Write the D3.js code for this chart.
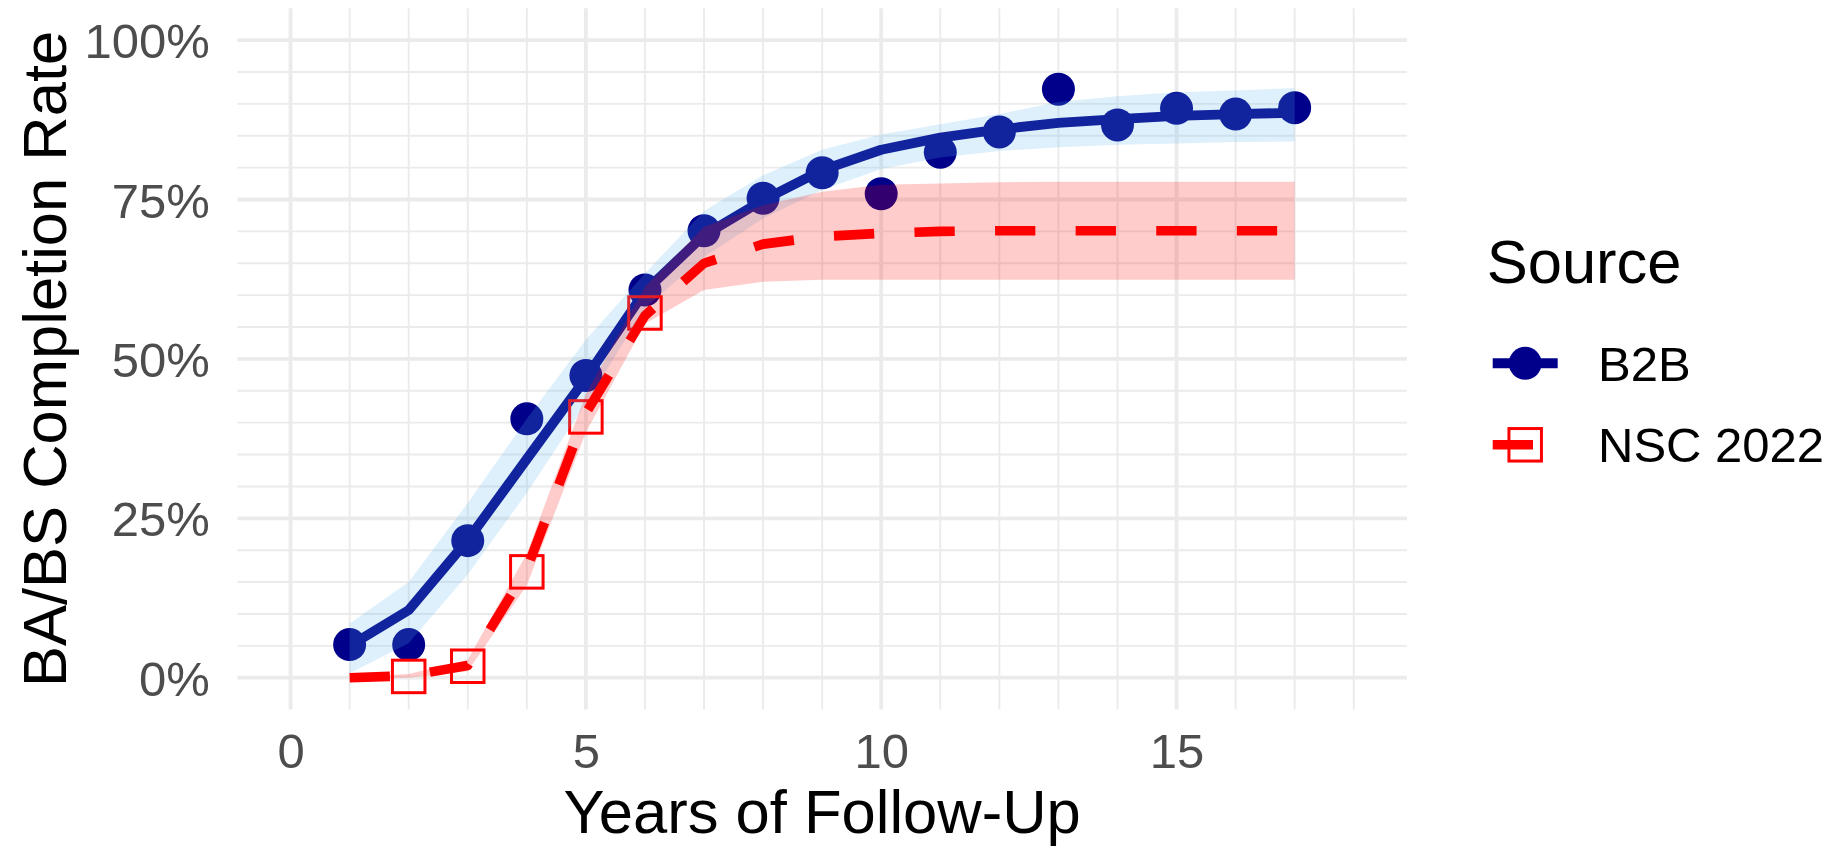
<!DOCTYPE html>
<html>
<head>
<meta charset="utf-8">
<script src="https://cdn.jsdelivr.net/npm/d3@7"></script>
<style>
  html, body { margin: 0; padding: 0; background: #ffffff; }
  svg { display: block; font-family: "Liberation Sans", Arial, Helvetica, sans-serif; }
</style>
</head>
<body>
<svg id="chart" width="1835" height="847"></svg>
<script>
// ---------------- data ----------------
const years = [1, 2, 3, 4, 5, 6, 7, 8, 9, 10, 11, 12, 13, 14, 15, 16, 17];

// B2B observed completion rates (%)
const b2bObserved = [5.2, 5.2, 21.5, 40.6, 47.4, 60.8, 70.1, 75.2, 79.2, 75.9, 82.4, 85.6, 92.3, 86.7, 89.3, 88.4, 89.4];
// B2B fitted curve and band (%)
const b2bFit  = [5.0, 10.6, 21.6, 34.3, 47.0, 60.6, 69.4, 74.9, 79.6, 82.8, 84.7, 86.0, 87.0, 87.6, 88.1, 88.4, 88.6];
const b2bLow  = [0.7, 5.4, 16.2, 29.0, 43.0, 58.0, 66.0, 72.0, 76.5, 79.8, 81.6, 82.6, 83.2, 83.6, 83.8, 84.0, 84.1];
const b2bHigh = [8.5, 15.0, 27.4, 40.6, 53.0, 63.4, 73.2, 78.8, 82.8, 85.2, 86.8, 88.4, 90.3, 91.2, 91.8, 92.1, 92.5];

// NSC 2022 observed (%)
const nscYears    = [2, 3, 4, 5, 6];
const nscObserved = [0.2, 1.8, 16.6, 40.9, 57.2];
// NSC 2022 fitted curve and band (%)
const nscFit  = [0.0, 0.3, 1.9, 17.0, 41.5, 56.8, 65.0, 68.0, 69.2, 69.7, 70.0, 70.1, 70.1, 70.1, 70.1, 70.1, 70.1];
const nscLow  = [0.0, 0.0, 1.0, 14.5, 38.5, 55.5, 60.8, 62.1, 62.4, 62.4, 62.4, 62.4, 62.4, 62.4, 62.4, 62.4, 62.4];
const nscHigh = [0.0, 0.6, 2.8, 19.5, 44.5, 61.3, 70.7, 74.1, 76.2, 77.3, 77.5, 77.7, 77.8, 77.8, 77.8, 77.8, 77.8];

// axes
const xTicks = [0, 5, 10, 15];
const xTickLabels = ["0", "5", "10", "15"];
const xMinorTicks = [1, 2, 3, 4, 6, 7, 8, 9, 11, 12, 13, 14, 16, 17, 18];
const yTicks = [0, 25, 50, 75, 100];
const yTickLabels = ["0%", "25%", "50%", "75%", "100%"];
const yMinorTicks = [5, 10, 15, 20, 30, 35, 40, 45, 55, 60, 65, 70, 80, 85, 90, 95];

const seriesNames = ["B2B", "NSC 2022"];
const xTitle = "Years of Follow-Up";
const yTitle = "BA/BS Completion Rate";
const legendTitle = "Source";

// ---------------- layout ----------------
const panel = { left: 237.4, right: 1406.9, top: 8.2, bottom: 709.6 };
const colB2B = "#00008B";
const colNSC = "#FF0000";
const fillB2B = "#56B4E9";
const fillNSC = "#FF0000";
const gridCol = "#EBEBEB";

const svg = d3.select("#chart");

const x = d3.scaleLinear().domain([-0.9, 18.9]).range([panel.left, panel.right]);
const y = d3.scaleLinear().domain([-5, 105]).range([panel.bottom, panel.top]);

// grid
const grid = svg.append("g");
grid.selectAll("line.ymin").data(yMinorTicks).join("line")
  .attr("x1", panel.left).attr("x2", panel.right)
  .attr("y1", d => y(d)).attr("y2", d => y(d))
  .attr("stroke", gridCol).attr("stroke-width", 1.9);
grid.selectAll("line.xmin").data(xMinorTicks).join("line")
  .attr("y1", panel.top).attr("y2", panel.bottom)
  .attr("x1", d => x(d)).attr("x2", d => x(d))
  .attr("stroke", gridCol).attr("stroke-width", 1.9);
grid.selectAll("line.ymaj").data(yTicks).join("line")
  .attr("x1", panel.left).attr("x2", panel.right)
  .attr("y1", d => y(d)).attr("y2", d => y(d))
  .attr("stroke", gridCol).attr("stroke-width", 3.8);
grid.selectAll("line.xmaj").data(xTicks).join("line")
  .attr("y1", panel.top).attr("y2", panel.bottom)
  .attr("x1", d => x(d)).attr("x2", d => x(d))
  .attr("stroke", gridCol).attr("stroke-width", 3.8);

// axes labels via d3 axes
const yAxis = d3.axisLeft(y).tickValues(yTicks)
  .tickFormat((d, i) => yTickLabels[i]).tickSize(0).tickPadding(27.6);
const gy = svg.append("g").attr("transform", `translate(${panel.left},0)`).call(yAxis);
gy.select(".domain").remove();
gy.selectAll("text").attr("font-size", 49).attr("fill", "#4D4D4D")
  .attr("font-family", "Liberation Sans, Arial, sans-serif").attr("dy", "0.36em");

const xAxis = d3.axisBottom(x).tickValues(xTicks)
  .tickFormat((d, i) => xTickLabels[i]).tickSize(0).tickPadding(23.6);
const gx = svg.append("g").attr("transform", `translate(0,${panel.bottom})`).call(xAxis);
gx.select(".domain").remove();
gx.selectAll("text").attr("font-size", 49).attr("fill", "#4D4D4D")
  .attr("font-family", "Liberation Sans, Arial, sans-serif");

// titles
svg.append("text").attr("x", (panel.left + panel.right) / 2).attr("y", 833)
  .attr("text-anchor", "middle").attr("font-size", 61.5).attr("fill", "#000")
  .text(xTitle);
svg.append("text")
  .attr("transform", `translate(66,${(panel.top + panel.bottom) / 2}) rotate(-90)`)
  .attr("text-anchor", "middle").attr("font-size", 61.5).attr("fill", "#000")
  .text(yTitle);

// data tables
const b2bRows = years.map((yr, i) => ({ x: yr, obs: b2bObserved[i], fit: b2bFit[i], lo: b2bLow[i], hi: b2bHigh[i] }));
const nscRows = years.map((yr, i) => ({ x: yr, fit: nscFit[i], lo: nscLow[i], hi: nscHigh[i] }));
const nscPts = nscYears.map((yr, i) => ({ x: yr, obs: nscObserved[i] }));

const plot = svg.append("g");
const lineGen = d3.line().x(d => x(d.x)).y(d => y(d.fit));
const areaGen = d3.area().x(d => x(d.x)).y0(d => y(d.lo)).y1(d => y(d.hi));

// points
plot.selectAll("circle.b2b").data(b2bRows).join("circle")
  .attr("cx", d => x(d.x)).attr("cy", d => y(d.obs)).attr("r", 16.5)
  .attr("fill", colB2B);

// lines
plot.append("path").datum(b2bRows).attr("d", lineGen)
  .attr("fill", "none").attr("stroke", colB2B).attr("stroke-width", 9.8)
  .attr("stroke-linejoin", "round");
plot.append("path").datum(nscRows).attr("d", lineGen)
  .attr("fill", "none").attr("stroke", colNSC).attr("stroke-width", 9.6)
  .attr("stroke-dasharray", "40.3,40.3").attr("stroke-linejoin", "round");

// squares
const sq = 32.5;
plot.selectAll("rect.nsc").data(nscPts).join("rect")
  .attr("x", d => x(d.x) - sq / 2).attr("y", d => y(d.obs) - sq / 2)
  .attr("width", sq).attr("height", sq)
  .attr("fill", "none").attr("stroke", colNSC).attr("stroke-width", 3);

// ribbons on top
plot.append("path").datum(b2bRows).attr("d", areaGen)
  .attr("fill", fillB2B).attr("fill-opacity", 0.2);
plot.append("path").datum(nscRows).attr("d", areaGen)
  .attr("fill", fillNSC).attr("fill-opacity", 0.2);

// legend
const lg = svg.append("g");
lg.append("text").attr("x", 1486.7).attr("y", 283.3).attr("font-size", 61.5).attr("fill", "#000").text(legendTitle);
// B2B key
lg.append("line").attr("x1", 1492.7).attr("x2", 1557.7).attr("y1", 363.3).attr("y2", 363.3)
  .attr("stroke", colB2B).attr("stroke-width", 10);
lg.append("circle").attr("cx", 1525.2).attr("cy", 363.3).attr("r", 16.5).attr("fill", colB2B);
lg.append("text").attr("x", 1598).attr("y", 381).attr("font-size", 49).attr("fill", "#000").text(seriesNames[0]);
// NSC key
lg.append("line").attr("x1", 1492.7).attr("x2", 1557.7).attr("y1", 444.8).attr("y2", 444.8)
  .attr("stroke", colNSC).attr("stroke-width", 9.6).attr("stroke-dasharray", "40.3,40.3");
lg.append("rect").attr("x", 1525.2 - sq / 2).attr("y", 444.8 - sq / 2).attr("width", sq).attr("height", sq)
  .attr("fill", "none").attr("stroke", colNSC).attr("stroke-width", 3);
lg.append("text").attr("x", 1598).attr("y", 462.3).attr("font-size", 49).attr("fill", "#000").text(seriesNames[1]);
</script>
</body>
</html>
